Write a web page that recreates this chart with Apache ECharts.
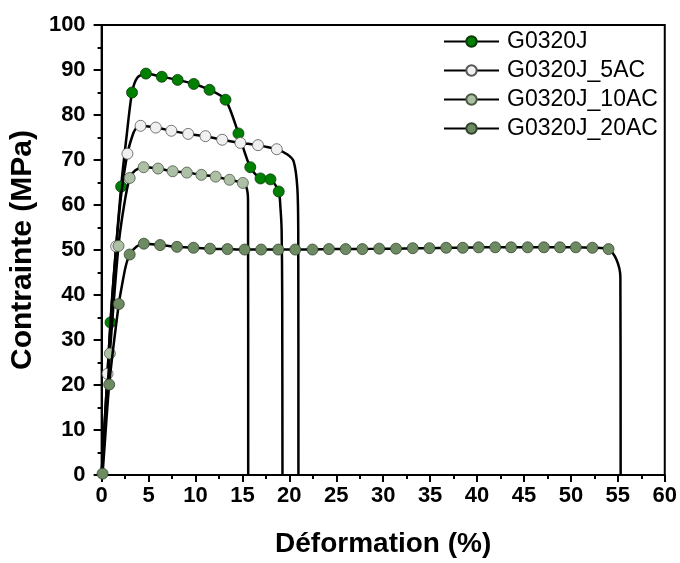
<!DOCTYPE html>
<html>
<head>
<meta charset="utf-8">
<script src="https://cdn.jsdelivr.net/npm/echarts@6/dist/echarts.min.js"></script>
<style>
html,body{margin:0;padding:0;background:#fff;}
#chart{width:680px;height:563px;}
</style>
</head>
<body>
<div id="chart"></div>
<script>
// ---- Data ----
var seriesNames = ['G0320J', 'G0320J_5AC', 'G0320J_10AC', 'G0320J_20AC'];
var xTicks = [0, 5, 10, 15, 20, 25, 30, 35, 40, 45, 50, 55, 60];
var yTicks = [0, 10, 20, 30, 40, 50, 60, 70, 80, 90, 100];

// marker points [strain %, stress MPa]
var g0320jMarkers = [[0.95,33.9],[2.08,64.1],[3.24,85.0],[4.72,89.2],[6.41,88.5],[8.1,87.8],[9.82,86.9],[11.5,85.6],[13.2,83.4],[14.58,75.9],[15.84,68.4],[16.93,65.9],[17.99,65.7],[18.87,63.0]];
// extra points on the curve (no marker)
var g0320jCurve = [[0,0],[0.5,17.8],[1.5,49.5],[2.7,76.0],[3.8,88.3],[19.05,59.5],[19.18,54.4],[19.24,40.0],[19.27,0]];

var g5acMarkers = [[0.63,22.5],[1.55,50.8],[2.75,71.4],[4.15,77.6],[5.77,77.2],[7.43,76.5],[9.22,75.8],[11.06,75.3],[12.85,74.5],[14.79,73.8],[16.66,73.3],[18.66,72.4]];
var g5acCurve = [[0,0],[1.05,37.5],[2.1,62.5],[3.3,75.5],[3.65,77.0],[19.8,71.2],[20.46,69.7],[20.85,63.9],[20.95,54.0],[20.97,0]];

var g10acMarkers = [[0.88,27.0],[1.8,50.9],[2.99,66.0],[4.47,68.4],[6.02,68.1],[7.57,67.5],[9.08,67.2],[10.63,66.7],[12.15,66.3],[13.63,65.6],[15.05,64.9]];
var g10acCurve = [[0,0],[2.4,60.0],[3.6,67.7],[15.45,63.8],[15.6,61.0],[15.62,0]];

var g20acMarkers = [[0.1,0.3],[0.81,20.1],[1.83,38.0],[2.99,49.0],[4.5,51.4],[6.23,51.1],[8.03,50.7],[9.79,50.5],[11.55,50.3],[13.41,50.2],[15.24,50.1],[17.0,50.1],[18.83,50.1],[20.63,50.1],[22.47,50.1],[24.22,50.2],[26.0,50.2],[27.78,50.2],[29.58,50.3],[31.37,50.3],[33.15,50.4],[34.93,50.4],[36.71,50.5],[38.48,50.5],[40.17,50.6],[41.94,50.6],[43.63,50.6],[45.39,50.6],[47.12,50.6],[48.83,50.6],[50.52,50.6],[52.29,50.5],[54.01,50.2]];
var g20acCurve = [[0,0],[2.22,42.7],[2.57,46.4],[3.73,50.8],[54.85,47.9],[55.27,44.0],[55.3,0]];

var markerFill = ['#008000', '#f0f0f0', '#adbfa5', '#6e8a62'];
var markerBorder = ['#0a3a0a', '#555555', '#4a5a44', '#34452e'];

// ---- Build chart ----
function mergeCurve(markers, extra) {
  return markers.concat(extra).slice().sort(function (a, b) { return a[0] - b[0]; });
}
var allMarkers = [g0320jMarkers, g5acMarkers, g10acMarkers, g20acMarkers];
var allCurves = [g0320jCurve, g5acCurve, g10acCurve, g20acCurve];

var FONT = '"Liberation Sans", Arial, sans-serif';
var series = [];
for (var i = 0; i < seriesNames.length; i++) {
  series.push({
    name: seriesNames[i],
    type: 'line',
    data: mergeCurve(allMarkers[i], allCurves[i]),
    smooth: 0.25,
    showSymbol: false,
    symbol: 'circle',
    lineStyle: { color: '#000', width: 2.5 },
    itemStyle: { color: markerFill[i], borderColor: markerBorder[i], borderWidth: 0.8 },
    emphasis: { disabled: true },
    silent: true,
    animation: false,
    z: 2 + i * 2
  });
  series.push({
    type: 'scatter',
    data: allMarkers[i],
    symbol: 'circle',
    symbolSize: 11,
    itemStyle: { color: markerFill[i], borderColor: markerBorder[i], borderWidth: 0.8, opacity: 1 },
    emphasis: { disabled: true },
    silent: true,
    animation: false,
    z: 3 + i * 2
  });
}

var chart = echarts.init(document.getElementById('chart'), null, { renderer: 'canvas' });
chart.setOption({
  backgroundColor: '#fff',
  animation: false,
  grid: { left: 99, right: 13, top: 25, bottom: 81, show: true, borderColor: '#000', borderWidth: 2, backgroundColor: 'transparent' },
  legend: {
    orient: 'vertical',
    left: 443,
    top: 30,
    data: seriesNames,
    itemWidth: 55,
    itemHeight: 13,
    itemGap: 6,
    padding: 0,
    textStyle: { fontFamily: FONT, fontSize: 23, color: '#000', padding: [0, 0, 0, 3], lineHeight: 23 },
    selectedMode: false
  },
  xAxis: {
    type: 'value',
    min: xTicks[0],
    max: xTicks[xTicks.length - 1],
    interval: 5,
    name: 'Déformation (%)',
    nameLocation: 'middle',
    nameGap: 55,
    nameTextStyle: { fontFamily: FONT, fontSize: 28, fontWeight: 'bold', color: '#000' },
    axisLine: { onZero: false, lineStyle: { color: '#000', width: 2 } },
    axisTick: { show: true, inside: false, length: 7, lineStyle: { color: '#000', width: 2 } },
    minorTick: { show: true, splitNumber: 2, length: 4, lineStyle: { color: '#000', width: 2 } },
    axisLabel: { fontFamily: FONT, fontSize: 22, fontWeight: 'bold', color: '#000', margin: 10 },
    splitLine: { show: false }
  },
  yAxis: {
    type: 'value',
    min: yTicks[0],
    max: yTicks[yTicks.length - 1],
    interval: 10,
    name: 'Contrainte (MPa)',
    nameLocation: 'middle',
    nameGap: 61,
    nameTextStyle: { fontFamily: FONT, fontSize: 30, fontWeight: 'bold', color: '#000' },
    axisLine: { onZero: false, lineStyle: { color: '#000', width: 2 } },
    axisTick: { show: true, inside: false, length: 8, lineStyle: { color: '#000', width: 2 } },
    minorTick: { show: true, splitNumber: 2, length: 4, lineStyle: { color: '#000', width: 2 } },
    axisLabel: { fontFamily: FONT, fontSize: 22, fontWeight: 'bold', color: '#000', margin: 16 },
    splitLine: { show: false }
  },
  series: series
});
</script>
</body>
</html>
